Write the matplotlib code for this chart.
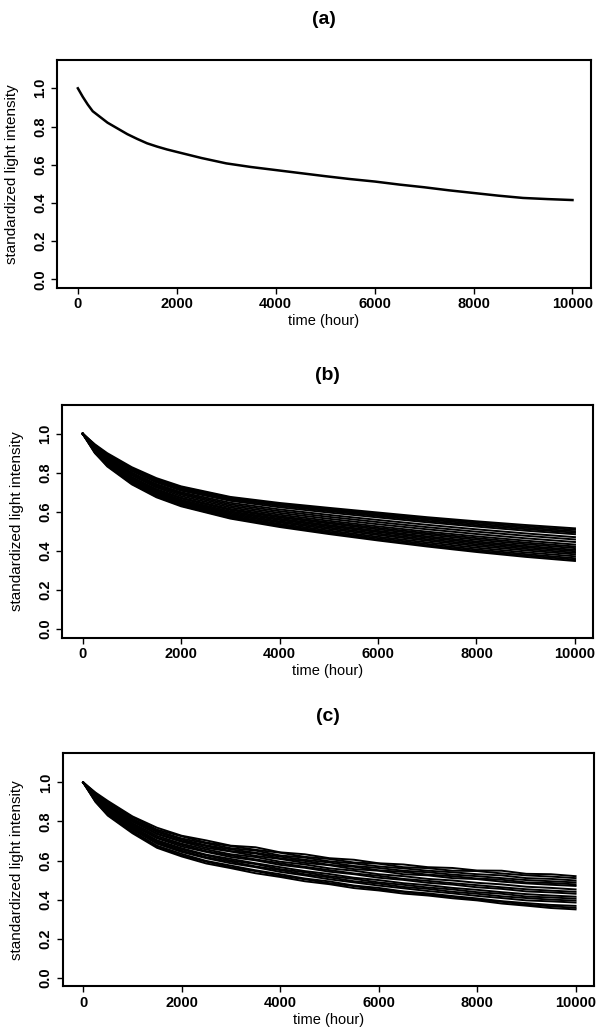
import matplotlib
matplotlib.use("Agg")
import matplotlib.pyplot as plt

plt.rcParams['font.family'] = ['Liberation Sans', 'DejaVu Sans']

# panel (a): one degradation path
time_a = [0, 100, 200, 300, 400, 600, 800, 1000, 1200, 1400, 1600, 1800, 2000, 2500, 3000,
          3500, 4000, 4500, 5000, 5500, 6000, 6500, 7000, 7500, 8000, 8500, 9000, 9500, 10000]
light_a = [1.0, 0.955, 0.915, 0.88, 0.86, 0.82, 0.79, 0.76, 0.735, 0.712, 0.695, 0.68, 0.667, 0.635, 0.607,
           0.588, 0.572, 0.556, 0.54, 0.525, 0.512, 0.496, 0.482, 0.466, 0.452, 0.438, 0.426, 0.42, 0.415]

# panel (b): smooth paths
time_b = [0, 250, 500, 1000, 1500, 2000, 3000, 4000, 5000, 6000, 7000, 8000, 9000, 10000]
paths_b = [
    [1.0, 0.945, 0.900, 0.828, 0.772, 0.730, 0.676, 0.645, 0.620, 0.596, 0.572, 0.551, 0.532, 0.515],
    [1.0, 0.940, 0.895, 0.822, 0.766, 0.726, 0.672, 0.640, 0.614, 0.590, 0.566, 0.545, 0.525, 0.508],
    [1.0, 0.942, 0.892, 0.818, 0.760, 0.720, 0.668, 0.636, 0.609, 0.584, 0.560, 0.538, 0.518, 0.500],
    [1.0, 0.935, 0.885, 0.812, 0.754, 0.714, 0.662, 0.630, 0.603, 0.578, 0.553, 0.531, 0.511, 0.493],
    [1.0, 0.938, 0.888, 0.808, 0.750, 0.708, 0.656, 0.623, 0.596, 0.571, 0.546, 0.524, 0.503, 0.485],
    [1.0, 0.930, 0.878, 0.800, 0.742, 0.700, 0.646, 0.612, 0.584, 0.558, 0.533, 0.510, 0.489, 0.470],
    [1.0, 0.932, 0.880, 0.796, 0.736, 0.694, 0.638, 0.603, 0.574, 0.547, 0.521, 0.498, 0.477, 0.458],
    [1.0, 0.925, 0.870, 0.790, 0.730, 0.688, 0.630, 0.594, 0.564, 0.536, 0.510, 0.486, 0.464, 0.445],
    [1.0, 0.928, 0.872, 0.786, 0.724, 0.680, 0.622, 0.585, 0.554, 0.525, 0.498, 0.474, 0.452, 0.432],
    [1.0, 0.920, 0.862, 0.778, 0.716, 0.672, 0.614, 0.577, 0.546, 0.517, 0.490, 0.465, 0.442, 0.422],
    [1.0, 0.924, 0.866, 0.776, 0.712, 0.668, 0.609, 0.571, 0.540, 0.510, 0.483, 0.457, 0.434, 0.414],
    [1.0, 0.915, 0.856, 0.770, 0.706, 0.661, 0.602, 0.564, 0.532, 0.502, 0.474, 0.448, 0.425, 0.405],
    [1.0, 0.918, 0.858, 0.766, 0.700, 0.655, 0.596, 0.558, 0.526, 0.496, 0.467, 0.441, 0.418, 0.398],
    [1.0, 0.910, 0.850, 0.762, 0.696, 0.650, 0.590, 0.551, 0.519, 0.488, 0.459, 0.433, 0.410, 0.390],
    [1.0, 0.912, 0.848, 0.756, 0.690, 0.644, 0.584, 0.545, 0.512, 0.481, 0.452, 0.425, 0.402, 0.382],
    [1.0, 0.905, 0.842, 0.752, 0.686, 0.640, 0.578, 0.538, 0.504, 0.472, 0.443, 0.416, 0.392, 0.372],
    [1.0, 0.908, 0.840, 0.748, 0.682, 0.636, 0.574, 0.532, 0.497, 0.465, 0.435, 0.407, 0.383, 0.362],
    [1.0, 0.900, 0.836, 0.744, 0.678, 0.632, 0.569, 0.527, 0.491, 0.458, 0.428, 0.400, 0.376, 0.355],
    [1.0, 0.902, 0.832, 0.740, 0.674, 0.628, 0.565, 0.522, 0.486, 0.453, 0.422, 0.394, 0.369, 0.348],
]

# panel (c): noisy paths
time_c = [0, 250, 500, 1000, 1500, 2000, 2500, 3000, 3500, 4000, 4500,
          5000, 5500, 6000, 6500, 7000, 7500, 8000, 8500, 9000, 9500, 10000]
paths_c = [
    [1.0, 0.948, 0.905, 0.826, 0.768, 0.727, 0.703, 0.676, 0.668, 0.642, 0.632, 0.612, 0.604, 0.586, 0.580, 0.566, 0.562, 0.549, 0.548, 0.532, 0.530, 0.520],
    [1.0, 0.944, 0.898, 0.822, 0.758, 0.724, 0.692, 0.674, 0.655, 0.640, 0.619, 0.608, 0.590, 0.584, 0.566, 0.561, 0.548, 0.546, 0.534, 0.524, 0.518, 0.510],
    [1.0, 0.940, 0.894, 0.814, 0.752, 0.713, 0.688, 0.663, 0.651, 0.626, 0.615, 0.596, 0.585, 0.570, 0.560, 0.548, 0.540, 0.530, 0.524, 0.510, 0.506, 0.498],
    [1.0, 0.938, 0.884, 0.808, 0.746, 0.707, 0.678, 0.657, 0.640, 0.620, 0.604, 0.590, 0.572, 0.562, 0.548, 0.540, 0.528, 0.520, 0.510, 0.500, 0.494, 0.488],
    [1.0, 0.934, 0.886, 0.802, 0.738, 0.700, 0.674, 0.648, 0.636, 0.611, 0.598, 0.578, 0.568, 0.550, 0.542, 0.528, 0.520, 0.508, 0.502, 0.488, 0.485, 0.478],
    [1.0, 0.930, 0.876, 0.800, 0.735, 0.696, 0.665, 0.646, 0.624, 0.608, 0.588, 0.576, 0.556, 0.548, 0.530, 0.524, 0.510, 0.505, 0.492, 0.483, 0.476, 0.470],
    [1.0, 0.928, 0.872, 0.792, 0.726, 0.686, 0.657, 0.632, 0.618, 0.594, 0.580, 0.560, 0.548, 0.530, 0.520, 0.506, 0.498, 0.486, 0.478, 0.466, 0.460, 0.452],
    [1.0, 0.924, 0.866, 0.786, 0.718, 0.680, 0.648, 0.626, 0.606, 0.586, 0.568, 0.551, 0.534, 0.522, 0.506, 0.496, 0.484, 0.474, 0.463, 0.453, 0.446, 0.440],
    [1.0, 0.920, 0.862, 0.780, 0.714, 0.672, 0.644, 0.618, 0.601, 0.578, 0.563, 0.543, 0.530, 0.512, 0.501, 0.486, 0.477, 0.463, 0.455, 0.442, 0.437, 0.430],
    [1.0, 0.918, 0.856, 0.774, 0.704, 0.663, 0.630, 0.608, 0.586, 0.566, 0.546, 0.531, 0.512, 0.500, 0.484, 0.474, 0.460, 0.450, 0.438, 0.428, 0.421, 0.415],
    [1.0, 0.914, 0.852, 0.768, 0.698, 0.657, 0.626, 0.600, 0.582, 0.556, 0.540, 0.520, 0.506, 0.488, 0.476, 0.462, 0.452, 0.438, 0.430, 0.416, 0.411, 0.405],
    [1.0, 0.912, 0.846, 0.762, 0.692, 0.650, 0.617, 0.594, 0.570, 0.551, 0.530, 0.514, 0.494, 0.482, 0.465, 0.455, 0.440, 0.430, 0.417, 0.408, 0.400, 0.395],
    [1.0, 0.908, 0.842, 0.758, 0.686, 0.644, 0.612, 0.586, 0.566, 0.542, 0.524, 0.504, 0.488, 0.472, 0.458, 0.444, 0.432, 0.419, 0.408, 0.396, 0.391, 0.385],
    [1.0, 0.905, 0.838, 0.750, 0.676, 0.634, 0.598, 0.574, 0.550, 0.530, 0.508, 0.493, 0.472, 0.460, 0.442, 0.432, 0.418, 0.406, 0.392, 0.382, 0.373, 0.368],
    [1.0, 0.902, 0.834, 0.745, 0.671, 0.626, 0.594, 0.566, 0.546, 0.522, 0.504, 0.484, 0.469, 0.452, 0.440, 0.425, 0.415, 0.400, 0.389, 0.374, 0.366, 0.358],
    [1.0, 0.900, 0.830, 0.740, 0.665, 0.621, 0.585, 0.561, 0.535, 0.516, 0.494, 0.479, 0.459, 0.447, 0.431, 0.421, 0.407, 0.396, 0.380, 0.369, 0.357, 0.350],
]

x_ticks = [0, 2000, 4000, 6000, 8000, 10000]
y_ticks = [0.0, 0.2, 0.4, 0.6, 0.8, 1.0]
y_tick_labels = ['0.0', '0.2', '0.4', '0.6', '0.8', '1.0']
titles = ['(a)', '(b)', '(c)']

fig = plt.figure(figsize=(6.01, 10.35), dpi=100)

# axes boxes (left, bottom, width, height)
boxes = [
    [0.095, 0.722, 0.888, 0.220],
    [0.103, 0.384, 0.884, 0.225],
    [0.104, 0.047, 0.884, 0.225],
]
title_y = [0.981, 0.637, 0.308]

axes = []
for box in boxes:
    ax = fig.add_axes(box)
    ax.set_xlim(-420, 10370)
    ax.set_ylim(-0.044, 1.148)
    ax.set_xticks(x_ticks)
    ax.set_xticklabels([str(v) for v in x_ticks], fontweight='bold')
    ax.set_yticks(y_ticks)
    ax.set_yticklabels(y_tick_labels, rotation=90, va='center', fontweight='bold')
    ax.tick_params(direction='out', length=4, width=1.0, labelsize=10.5, pad=3)
    for sp in ax.spines.values():
        sp.set_linewidth(1.5)
    ax.set_xlabel('time (hour)', fontsize=10.5)
    ax.set_ylabel('standardized light intensity', fontsize=11)
    ax.xaxis.set_label_coords(0.5, -0.115)
    ax.yaxis.set_label_coords(-0.072, 0.5)
    axes.append(ax)

axes[0].plot(time_a, light_a, color='black', lw=1.8)
for p in paths_b:
    axes[1].plot(time_b, p, color='black', lw=1.4)
for p in paths_c:
    axes[2].plot(time_c, p, color='black', lw=1.4)

for ax, box, t, ty in zip(axes, boxes, titles, title_y):
    fig.text(box[0] + box[2] / 2, ty, t, ha='center', va='center', fontsize=14, fontweight='bold')

fig.savefig('out.png', dpi=100)
